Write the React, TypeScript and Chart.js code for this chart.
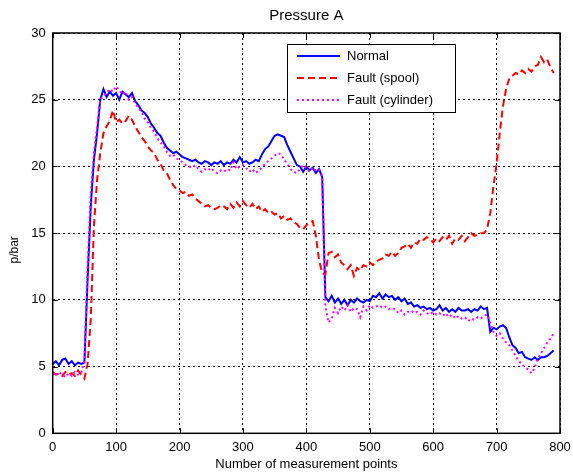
import React, { useEffect, useRef } from "react";
import { Chart, registerables } from "chart.js";

Chart.register(...registerables);

const xStep = 5;
const normal = [
  5.2, 5.4, 5.1, 5.5, 5.6, 5.2, 5.4, 5.1, 5.3, 5.2,
  5.3, 11.5, 17.0, 20.5, 22.5, 25.0, 25.8, 25.2, 25.6, 25.3,
  25.5, 25.0, 25.6, 25.4, 25.2, 25.5, 24.9, 24.6, 24.2, 24.0,
  23.7, 23.2, 22.9, 22.5, 22.3, 21.8, 21.4, 21.2, 21.0, 21.1,
  20.9, 20.7, 20.6, 20.5, 20.4, 20.5, 20.3, 20.2, 20.4, 20.3,
  20.1, 20.3, 20.2, 20.4, 20.1, 20.3, 20.2, 20.5, 20.3, 20.7,
  20.3, 20.4, 20.2, 20.3, 20.5, 20.4, 20.9, 21.3, 21.5, 21.9,
  22.3, 22.4, 22.3, 22.2, 21.6, 21.1, 20.6, 20.1, 20.0, 19.6,
  20.0, 19.7, 19.9, 19.5, 19.8, 19.2, 10.2, 9.9, 10.3, 9.8,
  10.1, 9.7, 10.0, 9.6, 10.0, 9.8, 10.1, 9.9, 9.8, 10.0,
  9.9, 10.3, 10.2, 10.5, 10.1, 10.4, 10.2, 10.3, 10.0, 10.2,
  9.9, 10.1, 9.7, 9.8, 9.5, 9.6, 9.4, 9.5, 9.3, 9.4,
  9.2, 9.3, 9.6, 9.2, 9.4, 9.1, 9.3, 9.1, 9.4, 9.2,
  9.2, 9.3, 9.1, 9.3, 9.2, 9.5, 9.3, 9.4, 7.6, 7.9,
  7.8, 8.0, 8.1, 7.9, 7.2, 6.6, 6.4, 6.0, 6.1, 5.7,
  5.6, 5.5, 5.7, 5.5, 5.7, 5.7, 5.8, 6.0, 6.2,
];
const faultSpool = [
  4.6, 4.4, 4.5, 4.3, 4.6, 4.4, 4.5, 4.3, 4.7, 4.4,
  4.1, 5.2, 8.5, 15.5, 19.0, 21.0, 22.5, 23.0, 23.4, 24.2,
  23.3, 23.5, 23.2, 23.4, 23.8, 23.5, 23.0, 22.6, 22.2, 21.9,
  21.5, 21.2, 21.0, 20.5, 20.2, 19.7, 19.5, 19.0, 18.6, 18.3,
  18.2, 18.0, 18.1, 17.8, 17.9, 17.6, 17.4, 17.2, 17.0, 17.1,
  16.9, 16.8, 16.9, 17.1, 17.0, 16.8, 17.2, 16.9, 17.3, 17.0,
  17.4, 17.1, 16.9, 17.2, 16.8, 17.0, 16.6, 16.8, 16.5, 16.6,
  16.4, 16.5, 16.1, 16.3, 16.0, 16.1, 15.8, 15.7, 15.4, 15.3,
  15.6, 15.8, 15.9, 14.8, 13.0, 12.0, 11.9, 13.5, 13.6, 13.2,
  13.4, 12.8, 12.6, 12.3, 12.6, 11.8, 12.4, 12.2, 12.6, 12.5,
  12.8, 12.6, 12.9, 13.0, 13.1, 13.4, 13.3, 13.6, 13.3, 13.5,
  13.9, 14.0, 14.2, 13.9, 14.3, 14.2, 14.6, 14.5, 14.7, 14.6,
  14.3, 14.6, 14.4, 14.7, 14.5, 14.8, 14.2, 14.6, 14.5, 14.8,
  14.4, 14.7, 15.0, 14.8, 14.9, 15.0, 15.0, 15.3, 16.5, 18.5,
  20.2, 22.5, 24.5, 25.8, 26.6, 26.8, 27.0, 26.9, 27.2, 27.0,
  27.3, 27.1, 27.5, 27.6, 28.2, 27.8, 28.0, 27.4, 27.0,
];
const faultCylinder = [
  4.5, 4.3, 4.6, 4.4, 4.2, 4.5, 4.3, 4.6, 4.4, 4.5,
  5.5, 12.5, 18.0, 21.0, 23.0, 25.0, 25.3, 25.5, 25.8, 25.6,
  26.0, 25.7, 25.4, 25.6, 25.0, 25.2, 24.7, 24.4, 24.1, 23.6,
  23.3, 22.9, 22.6, 22.1, 21.8, 21.5, 21.1, 20.8, 20.9, 20.6,
  20.5, 20.3, 20.1, 20.0, 19.9, 20.1, 19.8, 19.6, 19.8, 19.7,
  19.9, 19.6, 19.5, 19.7, 19.6, 19.8, 19.7, 20.3, 19.8, 20.0,
  20.1, 19.9, 19.6, 19.8, 19.5, 19.7, 19.9, 20.2, 20.4, 20.6,
  20.8, 21.0, 20.9, 20.5, 20.2, 19.8, 19.6, 19.5, 19.8, 20.1,
  19.9, 19.6, 19.9, 19.7, 19.8, 19.3, 9.5, 8.3, 8.6, 9.4,
  9.0, 9.5, 9.2, 9.6, 9.1, 9.4, 9.3, 8.7, 9.5, 9.2,
  9.6, 9.4, 9.5, 9.6, 9.4, 9.5, 9.3, 9.4, 9.3, 9.0,
  9.2, 8.9, 9.1, 9.2, 9.0, 9.1, 8.9, 9.2, 9.0, 8.9,
  9.1, 8.9, 9.0, 8.8, 9.0, 8.7, 8.9, 8.6, 8.8, 8.6,
  8.7, 8.4, 8.6, 8.5, 8.7, 8.6, 8.8, 8.9, 8.3, 7.6,
  7.3, 7.5, 7.1, 6.8, 6.6, 6.2, 5.8, 5.4, 5.2, 4.9,
  4.8, 4.5, 4.9, 5.6, 6.0, 6.4, 6.8, 7.1, 7.5,
];
const seriesLabels = ["Normal", "Fault (spool)", "Fault (cylinder)"];
const xTicks = [0, 100, 200, 300, 400, 500, 600, 700, 800];
const yTicks = [0, 5, 10, 15, 20, 25, 30];

const FONT = "'Liberation Sans', Arial, Helvetica, sans-serif";

const toPoints = (arr: number[]) => arr.map((y, i) => ({ x: i * xStep, y }));

const framePlugin = {
  id: "frameAndLegend",
  afterDraw(chart: any) {
    const { ctx, chartArea: a, scales } = chart;
    ctx.save();
    ctx.strokeStyle = "#000";
    ctx.lineWidth = 1;
    ctx.setLineDash([]);
    ctx.beginPath();
    xTicks.forEach((v) => {
      const px = Math.round(scales.x.getPixelForValue(v)) + 0.5;
      ctx.moveTo(px, a.bottom);
      ctx.lineTo(px, a.bottom - 5);
      ctx.moveTo(px, a.top);
      ctx.lineTo(px, a.top + 5);
    });
    yTicks.forEach((v) => {
      const py = Math.round(scales.y.getPixelForValue(v)) + 0.5;
      ctx.moveTo(a.left, py);
      ctx.lineTo(a.left + 5, py);
      ctx.moveTo(a.right, py);
      ctx.lineTo(a.right - 5, py);
    });
    ctx.stroke();
    ctx.lineWidth = 1.5;
    ctx.strokeRect(a.left, a.top, a.right - a.left, a.bottom - a.top);

    const lx = 287.5, ly = 44.5, lw = 168, lh = 68;
    ctx.fillStyle = "#fff";
    ctx.fillRect(lx, ly, lw, lh);
    ctx.lineWidth = 1;
    ctx.strokeStyle = "#000";
    ctx.strokeRect(lx, ly, lw, lh);
    const rows = [56, 78, 100];
    chart.data.datasets.forEach((ds: any, i: number) => {
      const y = rows[i];
      ctx.beginPath();
      ctx.strokeStyle = ds.borderColor;
      ctx.lineWidth = ds.borderWidth;
      ctx.setLineDash(ds.borderDash || []);
      ctx.moveTo(297, y);
      ctx.lineTo(340, y);
      ctx.stroke();
      ctx.setLineDash([]);
      ctx.fillStyle = "#000";
      ctx.font = `13px ${FONT}`;
      ctx.textBaseline = "middle";
      ctx.textAlign = "left";
      ctx.fillText(ds.label, 347, y);
    });
    ctx.restore();
  },
};

export default function App() {
  const ref = useRef<HTMLCanvasElement>(null);
  useEffect(() => {
    if (!ref.current) return;
    const chart = new Chart(ref.current, {
      type: "line",
      data: {
        datasets: [
          {
            label: seriesLabels[0],
            data: toPoints(normal),
            borderColor: "#0000ff",
            backgroundColor: "#0000ff",
            borderWidth: 2,
            pointRadius: 0,
            tension: 0,
            order: 3,
          },
          {
            label: seriesLabels[1],
            data: toPoints(faultSpool),
            borderColor: "#ff0000",
            backgroundColor: "#ff0000",
            borderWidth: 2,
            borderDash: [7, 4],
            pointRadius: 0,
            tension: 0,
            order: 2,
          },
          {
            label: seriesLabels[2],
            data: toPoints(faultCylinder),
            borderColor: "#ff00ff",
            backgroundColor: "#ff00ff",
            borderWidth: 2,
            borderDash: [2, 3],
            pointRadius: 0,
            tension: 0,
            order: 1,
          },
        ],
      },
      options: {
        animation: false,
        responsive: true,
        maintainAspectRatio: false,
        layout: { padding: { left: 0, right: 13, top: 0, bottom: 0 } },
        plugins: {
          legend: { display: false },
          tooltip: { enabled: false },
          title: {
            display: true,
            text: "Pressure A",
            color: "#000",
            font: { family: FONT, size: 15, weight: "normal" },
            padding: { top: 7, bottom: 8 },
            fullSize: false,
          },
        },
        scales: {
          x: {
            type: "linear",
            min: 0,
            max: 800,
            afterBuildTicks: (s: any) => {
              s.ticks = xTicks.map((v) => ({ value: v }));
            },
            ticks: {
              color: "#000",
              font: { family: FONT, size: 13 },
              padding: 6,
              maxRotation: 0,
            },
            grid: { color: "#000", lineWidth: 1, drawTicks: false },
            border: { display: false, dash: [2, 3] },
            title: {
              display: true,
              text: "Number of measurement points",
              color: "#000",
              font: { family: FONT, size: 13 },
              padding: { top: 0, bottom: 3 },
            },
            afterFit: (s: any) => {
              s.height = 41.7;
              s.paddingLeft = 0;
              s.paddingRight = 0;
            },
          },
          y: {
            type: "linear",
            min: 0,
            max: 30,
            afterBuildTicks: (s: any) => {
              s.ticks = yTicks.map((v) => ({ value: v }));
            },
            ticks: {
              color: "#000",
              font: { family: FONT, size: 13 },
              padding: 7,
            },
            grid: { color: "#000", lineWidth: 1, drawTicks: false },
            border: { display: false, dash: [2, 3] },
            title: {
              display: true,
              text: "p/bar          ",
              color: "#000",
              font: { family: FONT, size: 12 },
              padding: { top: 7, bottom: 0 },
            },
            afterFit: (s: any) => {
              s.width = 52.7;
              s.paddingTop = 0;
              s.paddingBottom = 0;
            },
          },
        },
      },
      plugins: [framePlugin],
    });
    return () => chart.destroy();
  }, []);
  return (
    <div style={{ position: "fixed", left: 0, top: 0, width: 573, height: 475, background: "#fff" }}>
      <canvas ref={ref} />
    </div>
  );
}
